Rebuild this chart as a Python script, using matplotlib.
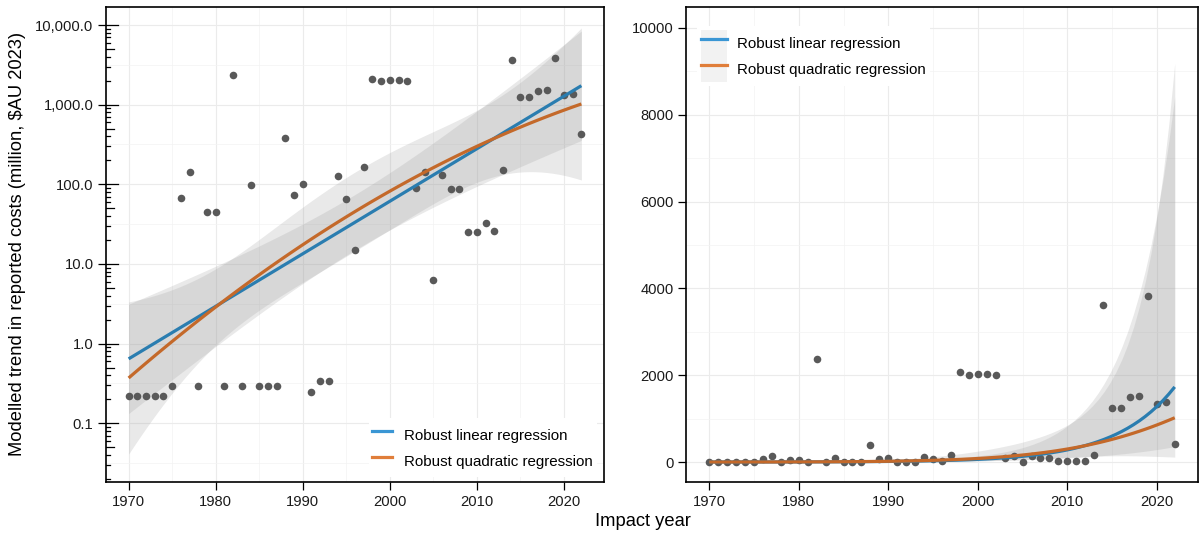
import numpy as np
import matplotlib
matplotlib.use("Agg")
import matplotlib.pyplot as plt
from matplotlib.ticker import FixedLocator, FuncFormatter
from matplotlib.patches import Patch
from matplotlib.lines import Line2D
from matplotlib.legend_handler import HandlerTuple

plt.rcParams['font.family'] = ['Liberation Sans', 'DejaVu Sans']

# reported costs per impact year (million $AU 2023)
years = np.arange(1970, 2023)
costs = [0.22, 0.22, 0.22, 0.22, 0.22, 0.29, 67, 144, 0.29, 45,
         45, 0.29, 2380, 0.29, 97, 0.29, 0.29, 0.29, 385, 74,
         100, 0.25, 0.34, 0.34, 127, 66, 15, 166, 2080, 2010,
         2020, 2020, 1995, 91, 143, 6.3, 132, 88, 88, 25.5,
         25.5, 33, 26, 152, 3610, 1250, 1250, 1500, 1520, 3830,
         1340, 1380, 425]

labels = ["Robust linear regression", "Robust quadratic regression"]
line_colours = ["#2A7DB0", "#C4692A"]
key_colours = ["#3A96D4", "#E07E3A"]

log_ticks = [0.1, 1, 10, 100, 1000, 10000]
lin_ticks = [0, 2000, 4000, 6000, 8000, 10000]
x_ticks = [1970, 1980, 1990, 2000, 2010, 2020]


# Huber M-estimate (like MASS::rlm) fitted by IRLS
def huber_fit(X, y, k=1.345, n_iter=200):
    beta = np.linalg.lstsq(X, y, rcond=None)[0]
    s = 1.0
    for _ in range(n_iter):
        resid = y - X @ beta
        s = np.median(np.abs(resid)) / 0.6745
        u = np.abs(resid / s)
        w = np.minimum(1.0, k / np.maximum(u, 1e-12))
        sw = np.sqrt(w)
        new = np.linalg.lstsq(X * sw[:, None], y * sw, rcond=None)[0]
        done = np.max(np.abs(new - beta)) < 1e-10
        beta = new
        if done:
            break
    return beta, s


def design(x, degree):
    t = (x - 1996.0) / 15.0
    return np.column_stack([t ** d for d in range(degree + 1)])


# fit on log10 scale, 95% band
ly = np.log10(np.array(costs, dtype=float))
xs = np.linspace(years.min(), years.max(), 80)
fits = []
for degree in (1, 2):
    X = design(years.astype(float), degree)
    beta, s = huber_fit(X, ly)
    X0 = design(xs, degree)
    xtx_inv = np.linalg.inv(X.T @ X)
    se = s * np.sqrt(np.sum((X0 @ xtx_inv) * X0, axis=1))
    mid = X0 @ beta
    fits.append((mid, mid - 1.96 * se, mid + 1.96 * se))

fig = plt.figure(figsize=(12, 5.36), dpi=100)
ax1 = fig.add_axes([106 / 1200, 54 / 536, 498 / 1200, 475 / 536])
ax2 = fig.add_axes([686 / 1200, 54 / 536, 512 / 1200, 475 / 536])

for ax in (ax1, ax2):
    for mid, lo, hi in fits:
        ax.fill_between(xs, 10 ** lo, 10 ** hi, color="#999999", alpha=0.216, lw=0, zorder=2)
    ax.scatter(years, costs, s=30, color="#595959", lw=0, zorder=3)
    for (mid, lo, hi), c in zip(fits, line_colours):
        ax.plot(xs, 10 ** mid, color=c, lw=2.3, zorder=4, solid_capstyle="butt")

    ax.set_xlim(1967.4, 2024.6)
    ax.xaxis.set_major_locator(FixedLocator(x_ticks))
    ax.xaxis.set_minor_locator(FixedLocator([1975, 1985, 1995, 2005, 2015]))
    ax.grid(which="major", color="#EBEBEB", lw=0.8, zorder=0)
    ax.grid(which="minor", color="#F3F3F3", lw=0.5, zorder=0)
    ax.set_axisbelow(True)
    ax.tick_params(which="major", direction="out", length=5.5, width=0.9,
                   labelsize=10.6, colors="black", labelcolor="#1a1a1a")
    ax.tick_params(which="minor", length=0)
    for sp in ax.spines.values():
        sp.set_linewidth(1.2)
        sp.set_color("black")

# left: log scale
ax1.set_yscale("log")
ax1.set_ylim(0.0183, 16830)
ax1.yaxis.set_major_locator(FixedLocator(log_ticks))
ax1.yaxis.set_major_formatter(FuncFormatter(lambda v, p: f"{v:,.1f}"))
ax1.yaxis.set_minor_locator(FixedLocator([10 ** (k + 0.5) for k in range(-2, 4)]))
ax1.tick_params(axis="y", which="minor", length=0)
ytr = ax1.get_yaxis_transform()
for k in range(-2, 5):
    for m in range(1, 10):
        v = m * 10.0 ** k
        if 0.0183 < v < 16830:
            L = 12 if m == 1 else (8 if m == 5 else 4)
            ax1.plot([0, L / 498], [v, v], transform=ytr, color="black", lw=0.9, zorder=5)

# right: linear scale
ax2.set_ylim(-460, 10480)
ax2.yaxis.set_major_locator(FixedLocator(lin_ticks))
ax2.yaxis.set_minor_locator(FixedLocator([1000, 3000, 5000, 7000, 9000]))
ax2.yaxis.set_major_formatter(FuncFormatter(lambda v, p: f"{int(v)}"))

# legends
h1 = [Line2D([], [], color=c, lw=2.3) for c in key_colours]
leg1 = ax1.legend(h1, labels, loc="lower right", bbox_to_anchor=(0.995, 0.0),
                  fontsize=10.9, frameon=True, facecolor="white", edgecolor="none",
                  framealpha=1, fancybox=False, handlelength=1.32, handleheight=2.24,
                  labelspacing=0, handletextpad=0.79, borderpad=0.25, borderaxespad=0.3)
leg1.set_zorder(6)

h2 = [(Patch(facecolor="#F2F2F2", edgecolor="none"), Line2D([], [], color=c, lw=2.3))
      for c in key_colours]
leg2 = ax2.legend(h2, labels, loc="upper left", bbox_to_anchor=(0.012, 0.97),
                  handler_map={tuple: HandlerTuple(ndivide=1, pad=0)},
                  fontsize=10.9, frameon=True, facecolor="white", edgecolor="none",
                  framealpha=1, fancybox=False, handlelength=1.69, handleheight=2.24,
                  labelspacing=0, handletextpad=0.66, borderpad=0.3, borderaxespad=0.3)
leg2.set_zorder(6)

fig.text(18 / 1200, (536 - 244) / 536, "Modelled trend in reported costs (million, $AU 2023)",
         rotation=90, ha="center", va="center", fontsize=13.2)
fig.text(643 / 1200, (536 - 522) / 536, "Impact year", ha="center", va="center", fontsize=13.2)

fig.savefig("out.png", dpi=100)
